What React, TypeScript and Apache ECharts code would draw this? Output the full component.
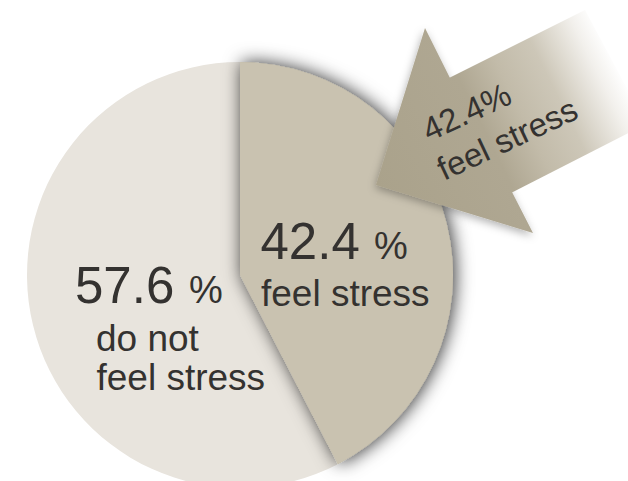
import React, { useEffect, useRef } from "react";
import * as echarts from "echarts";

// ---- data ----
const categories = ["feel stress", "do not feel stress"];
const values = [42.4, 57.6];
const sliceLabelLines = [["feel stress"], ["do not", "feel stress"]];
const arrowLines = ["42.4%", "feel stress"];
const sliceColors = ["#c9c2b0", "#e8e4dd"];

export default function App() {
  const ref = useRef<HTMLDivElement>(null);

  useEffect(() => {
    const chart = echarts.init(ref.current as HTMLDivElement, null, { renderer: "svg" });
    const fontFamily = "'Liberation Sans', Arial, Helvetica, sans-serif";
    const textColor = "#343230";
    // baseline -> middle (central) y
    const mid = (baseline: number, fs: number) => baseline - 0.3465 * fs;

    const txt = (text: string, x: number, baseline: number, fs: number, extra: any = {}) => ({
      type: "text",
      x,
      y: mid(baseline, fs),
      z: 110,
      silent: true,
      ...extra,
      style: {
        text,
        fontSize: fs,
        fontFamily,
        fill: textColor,
        align: "left",
        textAlign: "left",
        verticalAlign: "middle",
        textVerticalAlign: "middle",
      },
    });

    const arrowFill = {
      type: "linear",
      x: 376,
      y: 185,
      x2: 618,
      y2: 66,
      global: true,
      colorStops: [
        { offset: 0, color: "#aaa28b" },
        { offset: 0.45, color: "#afa792" },
        { offset: 0.6, color: "#c2bba9" },
        { offset: 0.75, color: "#cdc7b8" },
        { offset: 0.92, color: "#f2f0ec" },
        { offset: 1, color: "#ffffff" },
      ],
    };

    const rot = (25 * Math.PI) / 180;
    const arrowFs = 33;
    const up = (bx: number, by: number) => [bx - 0.3465 * arrowFs * Math.sin(rot), by - 0.3465 * arrowFs * Math.cos(rot)];
    const l1 = up(429, 142);
    const l2 = up(444, 181);

    const pieData = values.map((v, i) => ({
      name: categories[i],
      value: v,
      itemStyle: { color: sliceColors[i] },
    }));
    const overlayData = values.map((v, i) =>
      i === 0
        ? {
            name: categories[i],
            value: v,
            itemStyle: {
              color: sliceColors[i],
              shadowBlur: 18,
              shadowColor: "rgba(0,0,0,0.8)",
              shadowOffsetX: 2,
              shadowOffsetY: 0,
            },
          }
        : { name: categories[i], value: v, itemStyle: { color: "rgba(0,0,0,0)" } }
    );

    const pieCommon = {
      type: "pie",
      center: [240, 275],
      radius: 213,
      startAngle: 90,
      clockwise: true,
      silent: true,
      label: { show: false },
      labelLine: { show: false },
      emphasis: { disabled: true },
    };

    chart.setOption({
      animation: false,
      backgroundColor: "#ffffff",
      series: [
        { ...pieCommon, z: 2, data: pieData },
        { ...pieCommon, z: 3, data: overlayData },
      ],
      graphic: [
        {
          type: "polygon",
          z: 100,
          silent: true,
          shape: { points: [[376, 185], [425, 28], [450, 78], [512, 192], [533, 233]] },
          style: {
            fill: arrowFill,
            shadowBlur: 8,
            shadowColor: "rgba(0,0,0,0.3)",
            shadowOffsetX: -1,
            shadowOffsetY: 3,
          },
        },
        {
          type: "polygon",
          z: 101,
          silent: true,
          shape: { points: [[449, 78], [585, 10], [646, 124], [511, 193]] },
          style: { fill: arrowFill },
        },
        txt(arrowLines[0], l1[0], 0, arrowFs, { y: l1[1], rotation: rot }),
        txt(arrowLines[1], l2[0], 0, arrowFs, { y: l2[1], rotation: rot }),
        // slice labels
        txt(String(values[0]), 260.5, 259.3, 51),
        txt("%", 374, 259.3, 38),
        txt(sliceLabelLines[0][0], 261, 306, 37),
        txt(String(values[1]), 75, 303.3, 51),
        txt("%", 189, 303.3, 38),
        txt(sliceLabelLines[1][0], 96, 351.7, 37),
        txt(sliceLabelLines[1][1], 96.5, 390, 37),
      ],
    });

    return () => chart.dispose();
  }, []);

  return (
    <div
      ref={ref}
      style={{ position: "fixed", left: 0, top: 0, width: 628, height: 481, background: "#fff" }}
    />
  );
}
